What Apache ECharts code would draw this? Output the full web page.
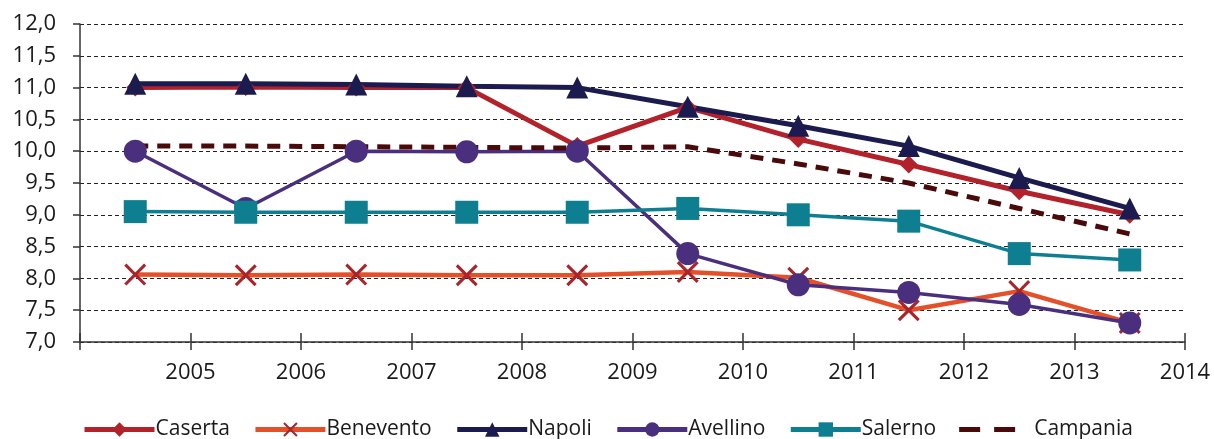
<!DOCTYPE html>
<html>
<head>
<meta charset="utf-8">
<script src="https://cdn.jsdelivr.net/npm/echarts@6/dist/echarts.min.js"></script>
<style>html,body{margin:0;padding:0;background:#fff;}#c{width:1214px;height:439px;}</style>
</head>
<body>
<div id="c"></div>
<script>
const categories = ['2004','2005','2006','2007','2008','2009','2010','2011','2012','2013'];
const tickLabels = ['2005','2006','2007','2008','2009','2010','2011','2012','2013','2014'];
const caserta   = [11.0, 11.01, 11.0, 11.0, 10.08, 10.69, 10.19, 9.79, 9.37, 9.0];
const benevento = [8.06, 8.05, 8.06, 8.05, 8.05, 8.1, 8.01, 7.5, 7.8, 7.3];
const napoli    = [11.06, 11.06, 11.05, 11.02, 11.0, 10.7, 10.4, 10.08, 9.58, 9.1];
const avellino  = [10.0, 9.1, 10.0, 9.99, 10.0, 8.39, 7.9, 7.78, 7.59, 7.3];
const salerno   = [9.05, 9.04, 9.04, 9.04, 9.04, 9.1, 9.0, 8.9, 8.39, 8.29];
const campania  = [10.08, 10.08, 10.07, 10.06, 10.05, 10.07, 9.8, 9.5, 9.1, 8.7];

const font = '"Open Sans", Lato, sans-serif';
const textColor = '#1a1a1a';
const crossPath = 'path://M0,1L1,0L5,4L9,0L10,1L6,5L10,9L9,10L5,6L1,10L0,9L4,5Z';
const dashIcon = 'path://M0,0h0.01v18h-0.01zM70,0h0.01v18h-0.01zM0,6.5h21v5h-21zM35,6.5h21v5h-21z';

function line(name, data, color, width, symbol, size, extra) {
  return Object.assign({
    name: name, type: 'line', data: data, xAxisIndex: 0,
    symbol: symbol, symbolSize: size, showSymbol: true,
    lineStyle: { color: color, width: width },
    itemStyle: { color: color },
    emphasis: { disabled: true },
    animation: false
  }, extra || {});
}

const chart = echarts.init(document.getElementById('c'), null, { renderer: 'canvas' });
chart.setOption({
  backgroundColor: '#ffffff',
  animation: false,
  grid: { left: 80, right: 29, top: 24, bottom: 97, containLabel: false },
  xAxis: [
    { type: 'category', data: categories, boundaryGap: true,
      axisLine: { show: false },
      axisTick: { show: true, inside: true, length: 9, lineStyle: { color: '#333', width: 1.5 } },
      axisLabel: { show: false }, splitLine: { show: false } },
    { type: 'value', min: 2004, max: 2014, interval: 1, position: 'bottom',
      axisLine: { show: true, onZero: false, lineStyle: { color: '#333', width: 1.5 } },
      axisTick: { show: true, length: 8, lineStyle: { color: '#333', width: 1.5 } },
      splitLine: { show: false },
      axisLabel: { margin: 20, fontSize: 22, color: textColor, fontFamily: font,
        formatter: function (v, i) { return i === 0 ? '' : (tickLabels[i - 1] || ''); } } }
  ],
  yAxis: {
    type: 'value', min: 7, max: 12, interval: 0.5,
    axisLine: { show: true, lineStyle: { color: '#333', width: 1.5 } },
    axisTick: { show: true, length: 7, lineStyle: { color: '#333', width: 1.5 } },
    axisLabel: { margin: 24, fontSize: 22, color: textColor, fontFamily: font,
      formatter: function (v) { return v.toFixed(1).replace('.', ','); } },
    splitLine: { show: true, lineStyle: { color: '#222', width: 1, type: [4, 3] } }
  },
  legend: {
    left: 77, top: 414, itemWidth: 70, itemHeight: 18, itemGap: 23,
    lineStyle: { width: 5 },
    textStyle: { fontSize: 21, color: textColor, fontFamily: font, padding: [0, 0, 0, -4] },
    data: ['Caserta', 'Benevento', 'Napoli', 'Avellino', 'Salerno',
      { name: 'Campania', icon: dashIcon, textStyle: { padding: [0, 0, 0, 0] } }]
  },
  series: [
    line('Caserta', caserta, '#B3222A', 5, 'diamond', 18),
    line('Benevento', benevento, '#E4502A', 4.5, crossPath, 22, { itemStyle: { color: '#A8252B' } }),
    line('Napoli', napoli, '#1C1B4F', 5, 'triangle', 22),
    line('Avellino', avellino, '#4B2F7F', 3.5, 'circle', 23),
    line('Salerno', salerno, '#0E7F91', 3.5, 'rect', 23),
    line('Campania', campania, '#4A0A0A', 4.5, 'none', 0, { showSymbol: false, lineStyle: { color: '#4A0A0A', width: 5, type: [13, 9] } })
  ]
});
</script>
</body>
</html>
